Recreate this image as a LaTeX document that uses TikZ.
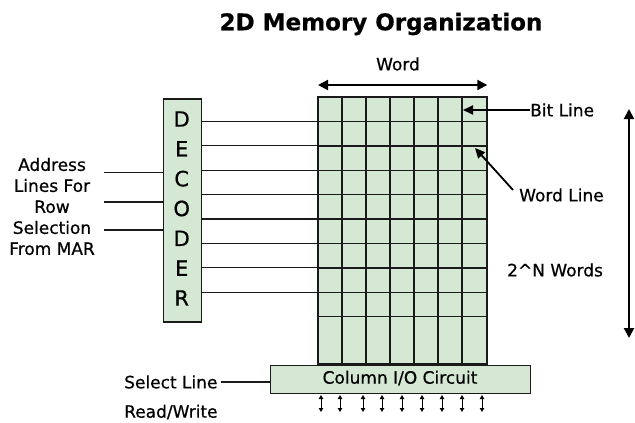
\documentclass[tikz,border=0pt]{standalone}
\usepackage{fontspec}
\setmainfont{DejaVu Sans}[FakeBold=0.6]
\usetikzlibrary{arrows.meta,calc}
\definecolor{cellgreen}{HTML}{D5E8D4}
\definecolor{inkdark}{HTML}{1A1A1A}
\tikzset{
  greenbox/.style={draw=inkdark, fill=cellgreen, line width=1.3pt, inner sep=0pt},
  gridline/.style={draw=inkdark, line width=1.4pt},
  wire/.style={draw=inkdark, line width=1.3pt},
  pointer/.style={draw=black, line width=1.8pt, -{Triangle[length=10pt,width=9pt]}},
  span/.style={draw=black, line width=2pt, {Triangle[length=10pt,width=10pt]}-{Triangle[length=10pt,width=10pt]}},
  rw/.style={draw=black, line width=1pt, {Triangle[length=4pt,width=4.5pt]}-{Triangle[length=4pt,width=4.5pt]}},
  lbl/.style={font=\fontsize{17}{21}\selectfont, text=black, inner sep=0pt},
}
\begin{document}
\begin{tikzpicture}[x=1pt, y=-1pt]
\useasboundingbox (0,0) rectangle (635,423);
\fill[white] (0,0) rectangle (635,423);

% title
\node[font=\fontsize{23}{27}\selectfont\bfseries, inner sep=0pt] (title) at (381,24) {2D Memory Organization};

% memory array: 7 columns x 10 rows, last row taller
\node[greenbox, minimum width=168pt, minimum height=266pt, anchor=north west] (grid) at (318,97) {};
\foreach \k in {1,...,6} {
  \draw[gridline] ($(grid.north west)+(24*\k,0)$) -- ($(grid.south west)+(24*\k,0)$);
}
\foreach \k in {1,...,9} {
  \coordinate (row\k) at (318,{97+24.4*\k});
  \draw[gridline] (row\k) -- ++(168,0);
}
\draw[gridline] (grid.north west) rectangle (grid.south east);

% decoder
\node[greenbox, minimum width=38pt, minimum height=223pt, anchor=north west] (dec) at (162.7,98.3) {};
\foreach \ch [count=\i from 0] in {D,E,C,O,D,E,R} {
  \node[font=\fontsize{21}{24}\selectfont, inner sep=0pt] (dl\i) at (181.7,{119+29.83*\i}) {\ch};
}
\foreach \k in {1,...,8} {
  \draw[wire] (dec.east |- row\k) -- (row\k);
}

% address lines into the decoder
\node[lbl, align=center] (addr) at (52,206.5) {Address\\Lines For\\Row\\Selection\\From MAR};
\foreach \yy [count=\j] in {172.7,202,230} {
  \coordinate (ain\j) at (104,\yy);
  \draw[wire] (ain\j) -- (dec.west |- ain\j);
}

% word width
\node[lbl] (word) at (398,64) {Word};
\draw[span] ($(grid.north west)+(0,-12)$) -- ($(grid.north east)+(0,-12)$);

% bit line / word line labels
\node[lbl, anchor=west] (bitl) at (530,110) {Bit Line};
\coordinate (bittip) at (463,110);
\draw[pointer] (bitl.west) -- (bittip);
\node[lbl, anchor=west] (wordl) at (519,195) {Word Line};
\coordinate (wltail) at (513,190);
\coordinate (wltip) at (475,148);
\draw[pointer] (wltail) -- (wltip);

% number of words
\node[lbl, anchor=west] (nwords) at (507,270) {2\textasciicircum N Words};
\coordinate (vtop) at (629,109);
\coordinate (vbot) at (629,338);
\draw[span] (vtop) -- (vbot);

% column I/O circuit
\node[greenbox, minimum width=260pt, minimum height=28pt, anchor=north west] (io) at (270,364.7) {};
\node[lbl] (iotext) at (400,378) {Column I/O Circuit};

% select line and read/write
\node[lbl, anchor=west] (sel) at (124,382) {Select Line};
\draw[wire] ($(sel.east)+(3,0)$) -- (io.west |- sel.east);
\node[lbl, anchor=west] (rdwr) at (124,412) {Read/Write};
\foreach \xx [count=\m] in {321,340,363,382,402,422,442,462,482} {
  \coordinate (rwa\m) at (\xx,395);
  \coordinate (rwb\m) at (\xx,412);
  \draw[rw] (rwa\m) -- (rwb\m);
}
\end{tikzpicture}
\end{document}
